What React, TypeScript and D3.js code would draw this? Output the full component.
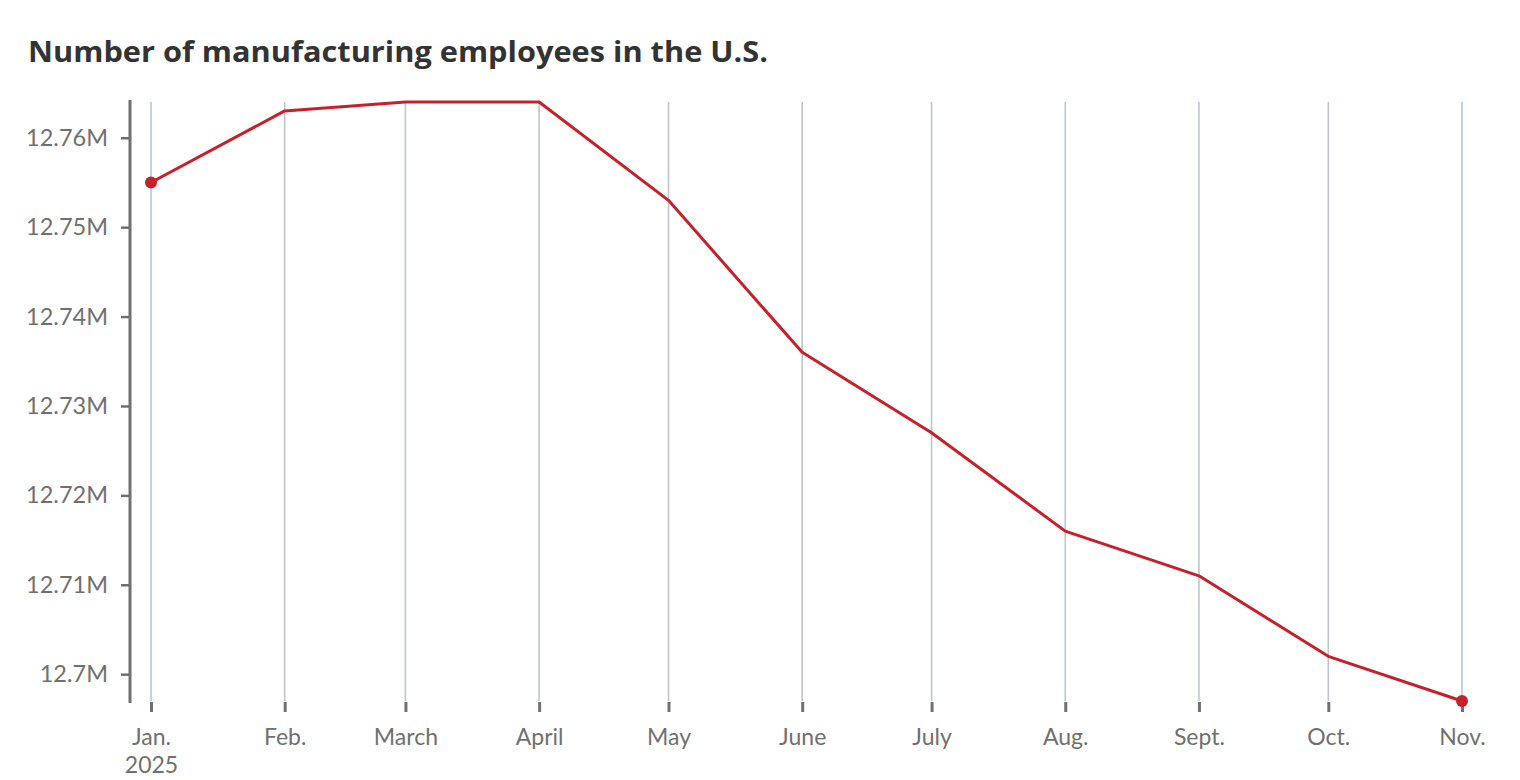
import React, { useEffect, useRef } from "react";
import * as d3 from "d3";

// monthly values, millions of employees (2025)
const months = ["2025-01-01", "2025-02-01", "2025-03-01", "2025-04-01", "2025-05-01", "2025-06-01", "2025-07-01", "2025-08-01", "2025-09-01", "2025-10-01", "2025-11-01"];
const monthLabels = ["Jan.", "Feb.", "March", "April", "May", "June", "July", "Aug.", "Sept.", "Oct.", "Nov."];
const employees = [12.755, 12.763, 12.764, 12.764, 12.753, 12.736, 12.727, 12.716, 12.711, 12.702, 12.697];
const yTicks = [12.7, 12.71, 12.72, 12.73, 12.74, 12.75, 12.76];

const title = "Number of manufacturing employees in the U.S.";

export default function App() {
    const svgRef = useRef<SVGSVGElement>(null);

    useEffect(() => {
        document.body.style.margin = "0";
        if (!svgRef.current) return;
        const svg = d3.select(svgRef.current);
        svg.selectAll("*").remove();

        const parse = d3.timeParse("%Y-%m-%d");
        const dates = months.map(m => parse(m)!);
        const data = dates.map((d, i) => ({ date: d, value: employees[i] }));

        const x = d3.scaleTime()
            .domain(d3.extent(dates) as [Date, Date])
            .range([151, 1462]);
        const y = d3.scaleLinear()
            .domain([12.697, 12.764])
            .range([701, 102]);

        const labelFont = "Lato, 'Open Sans', sans-serif";
        const gray = "#707070";

        svg.append("text")
            .attr("x", 28)
            .attr("y", 62)
            .attr("font-family", "'Open Sans', Lato, sans-serif")
            .attr("font-weight", 700)
            .attr("font-size", 29)
            .attr("fill", "#333333")
            .attr("textLength", 740)
            .attr("lengthAdjust", "spacingAndGlyphs")
            .text(title);

        // vertical gridlines
        svg.append("g")
            .selectAll("line")
            .data(dates)
            .join("line")
            .attr("x1", d => x(d))
            .attr("x2", d => x(d))
            .attr("y1", 102)
            .attr("y2", 701)
            .attr("stroke", "#bcc6ce")
            .attr("stroke-width", 1.6);

        // x axis
        const xAxis = svg.append("g")
            .attr("transform", "translate(0,702)")
            .call(d3.axisBottom(x)
                .tickValues(dates)
                .tickSize(10)
                .tickPadding(17)
                .tickFormat((_, i) => monthLabels[i]));
        xAxis.select(".domain").remove();
        xAxis.selectAll(".tick line").attr("stroke", gray).attr("stroke-width", 3);
        xAxis.selectAll(".tick text")
            .attr("fill", gray)
            .attr("font-family", labelFont)
            .attr("font-size", 23);
        xAxis.select(".tick text")
            .append("tspan")
            .attr("x", 0)
            .attr("dy", "1.2em")
            .text("2025");

        // y axis
        const yAxis = svg.append("g")
            .attr("transform", "translate(130,0)")
            .call(d3.axisLeft(y)
                .tickValues(yTicks)
                .tickSize(9)
                .tickPadding(13)
                .tickFormat(d => `${+(+d).toFixed(2)}M`));
        yAxis.select(".domain").remove();
        yAxis.append("line")
            .attr("x1", 0).attr("x2", 0)
            .attr("y1", 100).attr("y2", 703)
            .attr("stroke", gray)
            .attr("stroke-width", 3);
        yAxis.selectAll(".tick line").attr("stroke", gray).attr("stroke-width", 2.5);
        yAxis.selectAll(".tick text")
            .attr("fill", gray)
            .attr("font-family", labelFont)
            .attr("font-size", 23.5);

        const line = d3.line<{ date: Date; value: number }>()
            .x(d => x(d.date))
            .y(d => y(d.value));

        svg.append("path")
            .datum(data)
            .attr("fill", "none")
            .attr("stroke", "#c8202a")
            .attr("stroke-width", 3)
            .attr("stroke-linejoin", "round")
            .attr("d", line);

        svg.append("g")
            .selectAll("circle")
            .data([data[0], data[data.length - 1]])
            .join("circle")
            .attr("cx", d => x(d.date))
            .attr("cy", d => y(d.value))
            .attr("r", 6)
            .attr("fill", "#c8202a");
    }, []);

    return <svg ref={svgRef} width={1520} height={780} style={{ display: "block" }} />;
}
